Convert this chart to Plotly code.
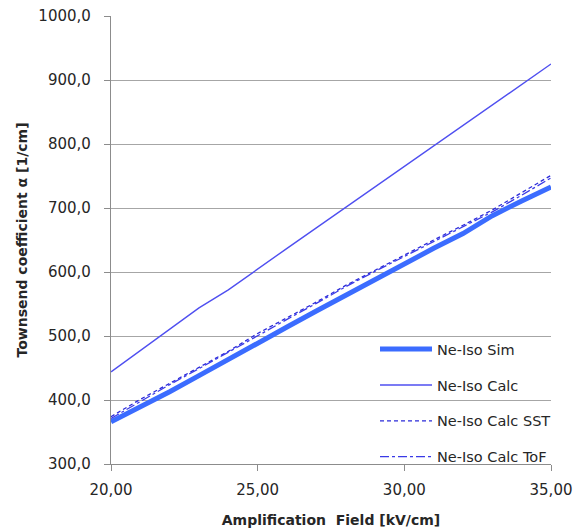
import plotly.graph_objects as go

# Amplification field values [kV/cm]
field = [20, 21, 22, 23, 24, 25, 26, 27, 28, 29, 30, 31, 32, 33, 34, 35]

# Townsend coefficient alpha [1/cm] for each series
ne_iso_sim = [366, 389, 413, 438, 464, 489, 514, 539, 564, 588, 613, 637, 660, 688, 711, 733]
ne_iso_calc = [444, 477, 511, 544, 572, 605, 637, 669, 701, 733, 765, 797, 829, 861, 893, 925]
ne_iso_calc_sst = [374, 401, 426, 451, 476, 504, 528, 553, 579, 603, 627, 650, 673, 697, 724, 751]
ne_iso_calc_tof = [371, 398, 424, 449, 475, 501, 526, 551, 577, 601, 624, 647, 670, 694, 720, 747]

FONT = "DejaVu Sans"
TEXT = "#262626"
AXIS = "#8c8c8c"

fig = go.Figure()
series = [
    ("Ne-Iso Sim", ne_iso_sim, dict(color="#3b6cff", width=5)),
    ("Ne-Iso Calc", ne_iso_calc, dict(color="#4f4ff0", width=1.4)),
    ("Ne-Iso Calc SST", ne_iso_calc_sst, dict(color="#2b2bd9", width=1.3, dash="4px,3px")),
    ("Ne-Iso Calc ToF", ne_iso_calc_tof, dict(color="#3a3ae6", width=1.3, dash="dashdot")),
]
for i, (name, ys, line) in enumerate(series):
    fig.add_trace(go.Scatter(
        x=field, y=ys, name=name, mode="lines", line=line,
        legendgroup=f"g{i}",
    ))

fig.update_layout(
    width=573, height=530,
    margin=dict(l=111, r=22, t=16, b=66, autoexpand=False),
    paper_bgcolor="white", plot_bgcolor="white",
    separators=", ",
    font=dict(family=FONT, size=14, color=TEXT),
    showlegend=True,
    legend=dict(
        x=0.6, y=0.292, xanchor="left", yanchor="top",
        bgcolor="rgba(0,0,0,0)", borderwidth=0,
        font=dict(family=FONT, size=14.5, color=TEXT),
        tracegroupgap=14, itemwidth=52,
    ),
    xaxis=dict(
        range=[20, 35], tickvals=[20, 25, 30, 35], tickformat=".2f",
        showgrid=False, showline=True, linecolor=AXIS, linewidth=1.3,
        ticks="outside", ticklen=6, tickcolor=AXIS,
        tickfont=dict(family=FONT, size=15, color=TEXT),
        ticklabelstandoff=6,
        title=dict(text="<b>Amplification  Field [kV/cm]</b>",
                   font=dict(family=FONT, size=14, color=TEXT), standoff=17),
        zeroline=False, automargin=False,
    ),
    yaxis=dict(
        range=[300, 1000], dtick=100, tick0=300, tickformat=".1f",
        showgrid=True, gridcolor="#a6a6a6", gridwidth=1.3,
        showline=True, linecolor=AXIS, linewidth=1.3,
        ticks="outside", ticklen=6, tickcolor=AXIS,
        tickfont=dict(family=FONT, size=15, color=TEXT),
        ticklabelstandoff=10,
        title=dict(text="<b>Townsend coefficient α [1/cm]</b>",
                   font=dict(family=FONT, size=14, color=TEXT), standoff=7),
        zeroline=False, automargin=False,
    ),
)

fig.write_html("out.html")
